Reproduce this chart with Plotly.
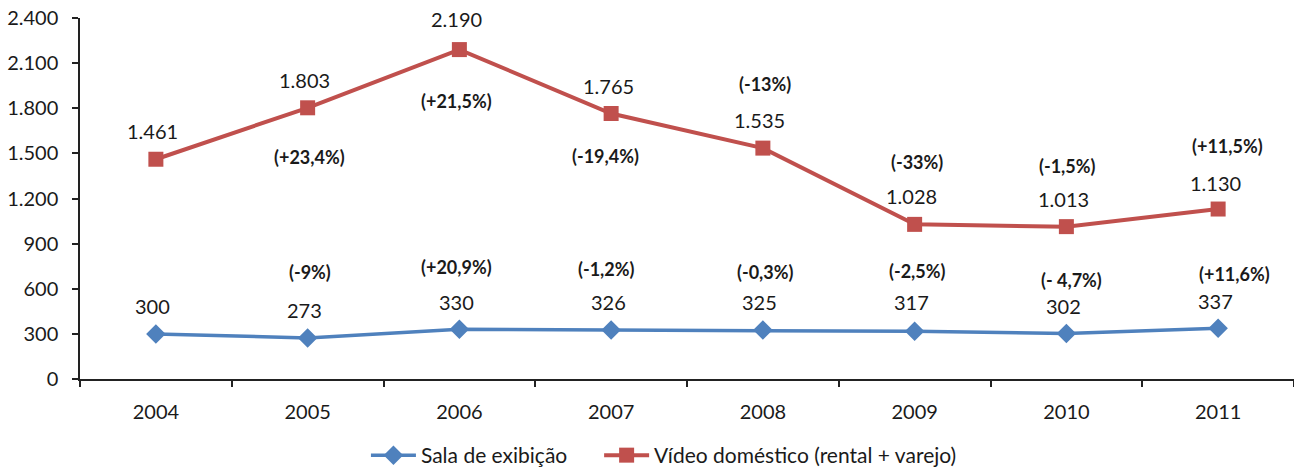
import plotly.graph_objects as go

years = ["2004", "2005", "2006", "2007", "2008", "2009", "2010", "2011"]
sala = [300, 273, 330, 326, 325, 317, 302, 337]
video = [1461, 1803, 2190, 1765, 1535, 1028, 1013, 1130]
sala_pct = ["", "(-9%)", "(+20,9%)", "(-1,2%)", "(-0,3%)", "(-2,5%)", "(- 4,7%)", "(+11,6%)"]
video_pct = ["", "(+23,4%)", "(+21,5%)", "(-19,4%)", "(-13%)", "(-33%)", "(-1,5%)", "(+11,5%)"]

# label pixel offsets (style/position, not data)
sala_val_shift = [28, 28, 27, 28, 28, 29, 28, 27]
video_val_shift = [28, 28, 31, 28, 28, 28, 28, 26]
sala_pct_shift = [0, 66, 62, 61, 58, 60, 54, 54]
sala_pct_xshift = [0, 2, -3, -5, 2, 2, 5, 16]
video_pct_shift = [0, -49, -51, -42, 64, 62, 61, 63]
video_pct_xshift = [0, 2, -3, -6, 2, 2, 1, 9]

def fmt(v):
    return f"{v:,}".replace(",", ".")

xs = list(range(len(years)))
BLUE = "#4F81BD"
RED = "#C0504D"
FONT = "Lato"
TXT = "#1a1a1a"

fig = go.Figure()
fig.add_trace(go.Scatter(x=xs, y=sala, mode="lines+markers", name="Sala de exibição" + "\u00a0" * 5,
                         line=dict(color=BLUE, width=3.5),
                         marker=dict(symbol="diamond", size=15, color=BLUE)))
fig.add_trace(go.Scatter(x=xs, y=video, mode="lines+markers", name="Vídeo doméstico (rental + varejo)",
                         line=dict(color=RED, width=4),
                         marker=dict(symbol="square", size=15, color=RED)))

ann = []
for i in xs:
    ann.append(dict(x=i, y=sala[i], text=fmt(sala[i]), showarrow=False, yshift=sala_val_shift[i],
                    xshift=-3, font=dict(family=FONT, size=20, color=TXT)))
    ann.append(dict(x=i, y=video[i], text=fmt(video[i]), showarrow=False, yshift=video_val_shift[i],
                    xshift=-3, font=dict(family=FONT, size=20, color=TXT)))
    if sala_pct[i]:
        ann.append(dict(x=i, y=sala[i], text="<b>" + sala_pct[i] + "</b>", showarrow=False,
                        yshift=sala_pct_shift[i], xshift=sala_pct_xshift[i],
                        font=dict(family=FONT, size=18, color=TXT)))
    if video_pct[i]:
        ann.append(dict(x=i, y=video[i], text="<b>" + video_pct[i] + "</b>", showarrow=False,
                        yshift=video_pct_shift[i], xshift=video_pct_xshift[i],
                        font=dict(family=FONT, size=18, color=TXT)))

fig.update_layout(
    width=1294, height=476,
    margin=dict(l=80, r=0, t=18, b=96),
    plot_bgcolor="white", paper_bgcolor="white",
    separators=",.",
    font=dict(family=FONT, size=20, color=TXT),
    showlegend=True,
    legend=dict(orientation="h", x=0.481, xanchor="center", y=-0.2127, yanchor="middle",
                font=dict(family=FONT, size=21, color=TXT), itemwidth=45, tracegroupgap=0),
    annotations=ann,
    xaxis=dict(range=[-0.5, 7.5], tickmode="array", tickvals=xs, ticktext=years,
               ticks="", showline=True, linecolor="#222", linewidth=1.5, automargin=False,
               showgrid=False, zeroline=False, ticklabelstandoff=14,
               tickfont=dict(family=FONT, size=20, color=TXT),
               minor=dict(tickmode="linear", tick0=0.5, dtick=1, ticks="outside",
                          ticklen=6, tickcolor="#222", tickwidth=1.5, showgrid=False)),
    yaxis=dict(range=[0, 2400], tickmode="linear", tick0=0, dtick=300, tickformat=",d",
               ticks="outside", ticklen=6, tickcolor="#222", tickwidth=1.5, automargin=False,
               showline=True, linecolor="#222", linewidth=1.5,
               tickfont=dict(family=FONT, size=20, color=TXT),
               showgrid=False, zeroline=False, ticklabelstandoff=10),
)

fig.write_html("out.html", config={"displayModeBar": False},
               post_script="document.body.style.margin='0';document.body.style.overflow='hidden';")
